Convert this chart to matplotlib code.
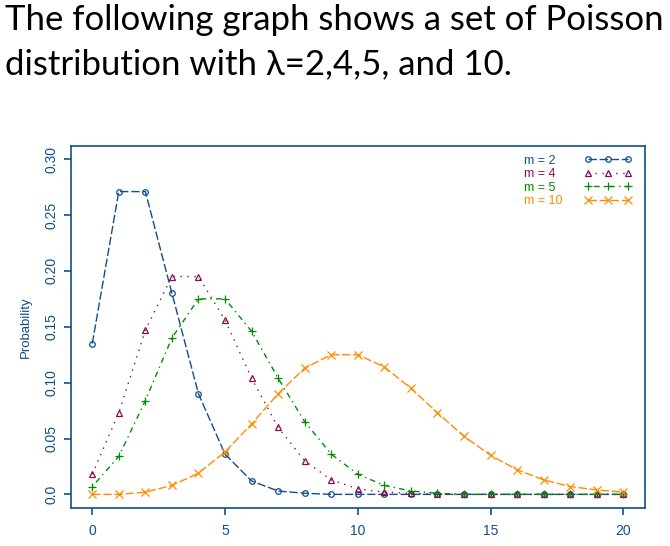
import matplotlib
matplotlib.use("Agg")
import matplotlib.pyplot as plt
from matplotlib.lines import Line2D

# counts 0..20 and probabilities
k = list(range(21))
p_m2 = [0.135, 0.271, 0.271, 0.180, 0.090, 0.036, 0.012, 0.003, 0.001, 0.000, 0.000,
        0.000, 0.000, 0.000, 0.000, 0.000, 0.000, 0.000, 0.000, 0.000, 0.000]
p_m4 = [0.018, 0.073, 0.147, 0.195, 0.195, 0.156, 0.104, 0.060, 0.030, 0.013, 0.005,
        0.002, 0.001, 0.000, 0.000, 0.000, 0.000, 0.000, 0.000, 0.000, 0.000]
p_m5 = [0.007, 0.034, 0.084, 0.140, 0.175, 0.175, 0.146, 0.104, 0.065, 0.036, 0.018,
        0.008, 0.003, 0.001, 0.000, 0.000, 0.000, 0.000, 0.000, 0.000, 0.000]
p_m10 = [0.000, 0.000, 0.002, 0.008, 0.019, 0.038, 0.063, 0.090, 0.113, 0.125, 0.125,
         0.114, 0.095, 0.073, 0.052, 0.035, 0.022, 0.013, 0.007, 0.004, 0.002]

labels = ["m = 2", "m = 4", "m = 5", "m = 10"]
yticks = [0.0, 0.05, 0.10, 0.15, 0.20, 0.25, 0.30]
ytick_labels = ["0.0", "0.05", "0.10", "0.15", "0.20", "0.25", "0.30"]
xticks = [0, 5, 10, 15, 20]

axis_col = "#104E8B"
colors = ["#104E8B", "#8B0A50", "#008B00", "#FF8C00"]
markers = ["o", "^", "+", "x"]
msizes = [4, 5, 5.5, 5.5]
styles = [(0, (6, 2)), (0, (1, 4)), (0, (1, 3, 4, 3)), (0, (6, 2))]
font = "Liberation Sans"

fig = plt.figure(figsize=(6.7, 5.46), dpi=100)
fig.text(0.007, 0.945, "The following graph shows a set of Poisson",
         ha="left", va="baseline", fontsize=25, family="Lato")
fig.text(0.007, 0.864, "distribution with \u03bb=2,4,5, and 10.",
         ha="left", va="baseline", fontsize=25, family="Lato")

ax = fig.add_axes([0.106, 0.070, 0.856, 0.663])
handles = []
for ys, c, mk, ms, ls, lab in zip([p_m2, p_m4, p_m5, p_m10], colors, markers, msizes, styles, labels):
    ln, = ax.plot(k, ys, color=c, marker=mk, linestyle=ls, linewidth=1.0,
                  markersize=ms, markerfacecolor="none", markeredgewidth=0.9, label=lab)
    handles.append(ln)

ax.set_xlim(-0.8, 20.8)
ax.set_ylim(-0.012, 0.312)
ax.set_xticks(xticks)
ax.set_yticks(yticks)
ax.set_yticklabels(ytick_labels, rotation=90, va="center")
ax.set_ylabel("Probability", color=axis_col, fontsize=9.5, family=font, labelpad=9)
ax.tick_params(colors=axis_col, labelcolor=axis_col, labelsize=10, length=5, width=1.2)
ax.tick_params(axis="x", pad=7)
ax.tick_params(axis="y", pad=4)
for t in ax.get_xticklabels() + ax.get_yticklabels():
    t.set_family(font)
for s in ax.spines.values():
    s.set_color(axis_col)
    s.set_linewidth(1.2)

# legend: labels on the left (left aligned), symbols on the right
blank = [Line2D([], [], linestyle="none") for _ in labels]
leg_text = ax.legend(blank, labels, loc="upper left", bbox_to_anchor=(0.775, 1.0),
                     frameon=False, handlelength=0, handletextpad=0,
                     labelcolor=colors, prop={"family": font, "size": 9},
                     labelspacing=0.12, borderaxespad=0.3)
ax.add_artist(leg_text)
ax.legend(handles, ["", "", "", ""], loc="upper left", bbox_to_anchor=(0.88, 1.0),
          frameon=False, numpoints=3, handlelength=3.8, handletextpad=0,
          prop={"family": font, "size": 9}, labelspacing=0.12, borderaxespad=0.3)

fig.savefig("out.png", dpi=100)
